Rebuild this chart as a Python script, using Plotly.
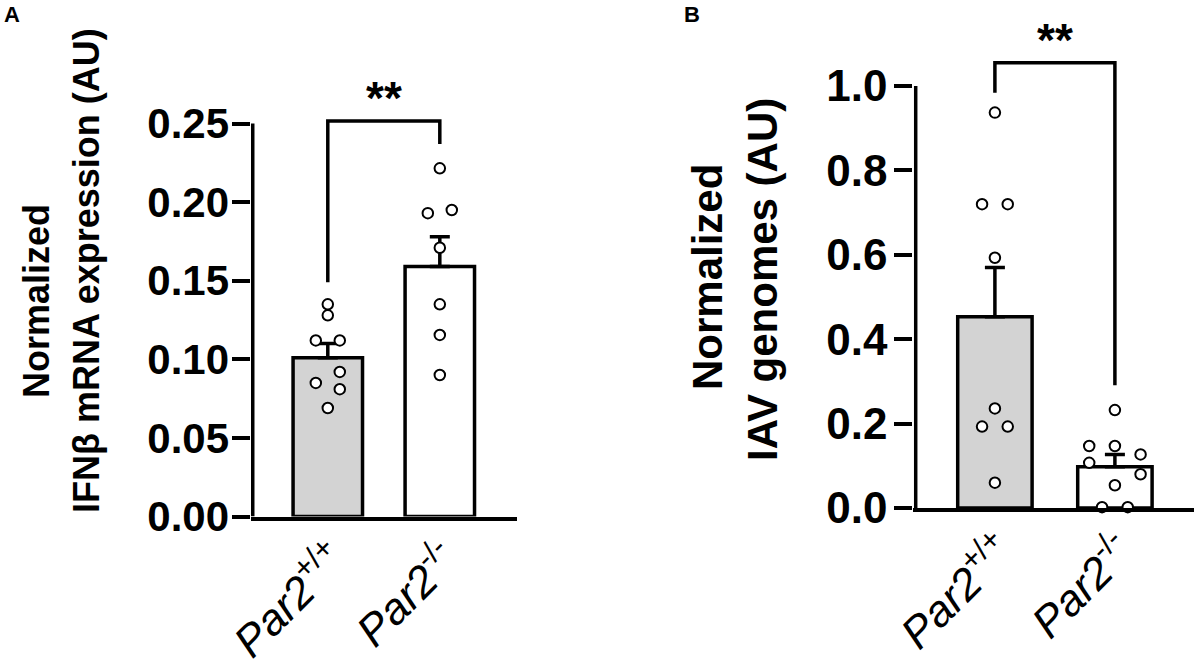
import plotly.graph_objects as go

groups = ['<i>Par2</i><sup>+/+</sup>', '<i>Par2</i><sup>-/-</sup>']

# panel A - IFNb mRNA expression
ifnb_mean = [0.101, 0.159]
ifnb_sem = [0.009, 0.019]
ifnb_wt = [0.135, 0.128, 0.112, 0.112, 0.092, 0.085, 0.081, 0.069]
ifnb_ko = [0.2215, 0.193, 0.195, 0.171, 0.135, 0.1155, 0.090]
ifnb_wt_slot = [0, 0, -1, 1, 1, -1, 1, 0]
ifnb_ko_slot = [0, -1, 1, 0, 0, 0, 0]
ifnb_ticks = [0, 0.05, 0.10, 0.15, 0.20, 0.25]

# panel B - IAV genomes
iav_mean = [0.453, 0.098]
iav_sem = [0.117, 0.029]
iav_wt = [0.937, 0.720, 0.720, 0.593, 0.236, 0.193, 0.193, 0.060]
iav_ko = [0.232, 0.147, 0.147, 0.127, 0.107, 0.080, 0.054, 0.002, 0.002]
iav_wt_slot = [0, -1, 1, 0, 0, -1, 1, 0]
iav_ko_slot = [0, -2, 0, 2, -2, 2, 0, -1, 1]
iav_ticks = [0, 0.2, 0.4, 0.6, 0.8, 1.0]

FONT = 'Arial, Liberation Sans, sans-serif'
LW = 3.5
SLOT = 0.107
W, H = 1199, 668


def px(x, y):
    # pixel (from top-left) -> paper coords
    return x / W, 1 - y / H


def xdom(x0, x1):
    return [px(x0, 0)[0], px(x1, 0)[0]]


def ydom(y_bottom, y_top):
    return [px(0, y_bottom)[1], px(0, y_top)[1]]


fig = go.Figure()


def add_panel(xa, ya, means, sems, pts, slots):
    fig.add_trace(go.Bar(
        x=[0, 1], y=means, width=0.62, xaxis=xa, yaxis=ya,
        marker=dict(color=['#d3d3d3', 'white'], line=dict(color='black', width=LW)),
        error_y=dict(type='data', array=sems, arrayminus=[0, 0], symmetric=False,
                     color='black', thickness=LW, width=10),
    ))
    for i, (vals, sl) in enumerate(zip(pts, slots)):
        fig.add_trace(go.Scatter(
            x=[i + s * SLOT for s in sl], y=vals, mode='markers', xaxis=xa, yaxis=ya,
            cliponaxis=False,
            marker=dict(symbol='circle', size=10.5, color='white',
                        line=dict(color='black', width=2)),
        ))


def add_bracket(xa, ya, y_left, y_top, y_right):
    fig.add_trace(go.Scatter(
        x=[0, 0, 1, 1], y=[y_left, y_top, y_top, y_right], mode='lines',
        xaxis=xa, yaxis=ya, line=dict(color='black', width=LW),
    ))
    fig.add_annotation(text='**', x=0.5, y=y_top, xref=xa, yref=ya, showarrow=False,
                       yanchor='bottom', yshift=-5,
                       font=dict(family=FONT, size=46, color='black', weight='bold'))


add_panel('x', 'y', ifnb_mean, ifnb_sem, [ifnb_wt, ifnb_ko], [ifnb_wt_slot, ifnb_ko_slot])
add_panel('x2', 'y2', iav_mean, iav_sem, [iav_wt, iav_ko], [iav_wt_slot, iav_ko_slot])
add_bracket('x', 'y', 0.149, 0.2516, 0.237)
add_bracket('x2', 'y2', 0.984, 1.055, 0.291)

xcommon = dict(tickvals=[0, 1], ticktext=groups, tickangle=-45, showline=True,
               linewidth=LW, linecolor='black', ticks='', showgrid=False, zeroline=False,
               ticklabelstandoff=-4, ticklabelshift=6,
               tickfont=dict(family=FONT, size=44, color='black'))
ycommon = dict(ticks='outside', ticklen=18, tickwidth=LW, tickcolor='black',
               showline=False, showgrid=False, zeroline=False)

fig.update_layout(
    width=W, height=H, margin=dict(l=0, r=0, t=0, b=0, autoexpand=False),
    paper_bgcolor='white', plot_bgcolor='white', showlegend=False,
    xaxis=dict(domain=xdom(250.5, 517.1), range=[-0.69, 1.69], anchor='y', **xcommon),
    yaxis=dict(domain=ydom(516.5, 92.1), range=[0, 0.27], anchor='x',
               tickvals=ifnb_ticks, tickformat='.2f', ticklabelstandoff=-6,
               tickfont=dict(family=FONT, size=42, color='black', weight='bold'), **ycommon),
    xaxis2=dict(domain=xdom(913.3, 1194.1), range=[-0.68, 1.66], anchor='y2', **xcommon),
    yaxis2=dict(domain=ydom(508, 56.5), range=[0, 1.07], anchor='x2',
                tickvals=iav_ticks, tickformat='.1f', ticklabelstandoff=-2,
                tickfont=dict(family=FONT, size=44, color='black', weight='bold'), **ycommon),
    shapes=[
        dict(type='line', xref='x', yref='y', x0=-0.67, x1=-0.67, y0=0, y1=ifnb_ticks[-1],
             line=dict(color='black', width=LW)),
        dict(type='line', xref='x2', yref='y2', x0=-0.66, x1=-0.66, y0=0, y1=iav_ticks[-1],
             line=dict(color='black', width=LW)),
    ],
)

bold = dict(family=FONT, color='black', weight='bold')

# panel letters hang from the top edge
for text, x in [('A', 12), ('B', 692)]:
    fig.add_annotation(text=text, x=px(x, 0)[0], y=1, xref='paper', yref='paper',
                       showarrow=False, xanchor='center', yanchor='top',
                       font=dict(size=22, **bold))

titles = [
    ('Normalized', 36, 301, 36),
    ('IFNβ mRNA expression (AU)', 86, 271, 36),
    ('Normalized', 707, 277, 42),
    ('IAV genomes (AU)', 762, 280, 42),
]
for text, x, y, size in titles:
    xp, yp = px(x, y)
    fig.add_annotation(text=text, x=xp, y=yp, xref='paper', yref='paper', showarrow=False,
                       textangle=-90, xanchor='center', yanchor='middle',
                       font=dict(size=size, **bold))

# the page keeps its default 8px body margin otherwise, which shifts the figure
fig.write_html('out.html', config={'displayModeBar': False},
               post_script="document.body.style.margin='0';")
